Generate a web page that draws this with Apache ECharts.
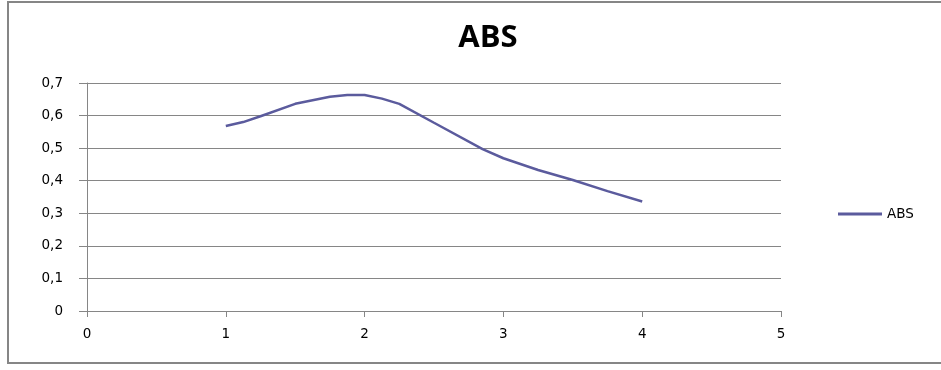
<!DOCTYPE html>
<html>
<head>
<meta charset="utf-8">
<script src="https://cdn.jsdelivr.net/npm/echarts@6/dist/echarts.min.js"></script>
<style>
  html, body { margin: 0; padding: 0; background: #fff; overflow: hidden; }
  #chart { width: 941px; height: 370px; }
</style>
</head>
<body>
<div id="chart"></div>
<script>
// Absorbance readings
const xValues = [1.0, 1.125, 1.25, 1.5, 1.75, 1.875, 2.0, 2.125, 2.25, 2.5, 2.85, 3.0, 3.25, 3.5, 3.75, 4.0];
const absValues = [0.568, 0.580, 0.598, 0.636, 0.658, 0.663, 0.663, 0.652, 0.636, 0.578, 0.497, 0.469, 0.433, 0.402, 0.368, 0.336];
const seriesName = 'ABS';
const chartTitle = 'ABS';

const axisGray = '#868686';
const lineColor = '#5b5b9d';
const labelFont = 'DejaVu Sans';

const chart = echarts.init(document.getElementById('chart'), null, { renderer: 'canvas' });

chart.setOption({
  animation: false,
  backgroundColor: '#ffffff',
  graphic: [{
    // chart frame: open on the right side
    type: 'polyline',
    shape: { points: [[960, 2], [8, 2], [8, 363], [960, 363]] },
    style: { fill: 'none', stroke: axisGray, lineWidth: 2 },
    silent: true
  }],
  title: {
    text: chartTitle,
    left: 483,
    textAlign: 'center',
    top: 18,
    textStyle: { fontFamily: 'Open Sans', fontWeight: 'bold', fontSize: 31, color: '#000' }
  },
  legend: {
    data: [seriesName],
    left: 833,
    top: 202,
    icon: 'rect',
    itemWidth: 44,
    itemHeight: 3,
    itemGap: 6,
    textStyle: { fontFamily: labelFont, fontSize: 13.5, color: '#000' }
  },
  grid: { left: 87, right: 160, top: 83, bottom: 59, containLabel: false },
  xAxis: {
    type: 'value',
    min: 0, max: 5, interval: 1,
    axisLine: { show: true, lineStyle: { color: axisGray, width: 1 } },
    axisTick: { show: true, length: 6, lineStyle: { color: axisGray } },
    splitLine: { show: false },
    axisLabel: { margin: 16, fontFamily: labelFont, fontSize: 13.5, color: '#000' }
  },
  yAxis: {
    type: 'value',
    min: 0, max: 0.7, interval: 0.1,
    axisLine: { show: true, lineStyle: { color: axisGray, width: 1 } },
    axisTick: { show: true, length: 8, lineStyle: { color: axisGray } },
    splitLine: { show: true, lineStyle: { color: axisGray, width: 1 } },
    axisLabel: {
      margin: 24,
      fontFamily: labelFont, fontSize: 13.5, color: '#000',
      formatter: v => (Math.round(v * 10) / 10).toString().replace('.', ',')
    }
  },
  series: [{
    name: seriesName,
    type: 'line',
    data: xValues.map((x, i) => [x, absValues[i]]),
    showSymbol: false,
    smooth: false,
    lineStyle: { color: lineColor, width: 2.5 },
    itemStyle: { color: lineColor }
  }]
});
</script>
</body>
</html>
